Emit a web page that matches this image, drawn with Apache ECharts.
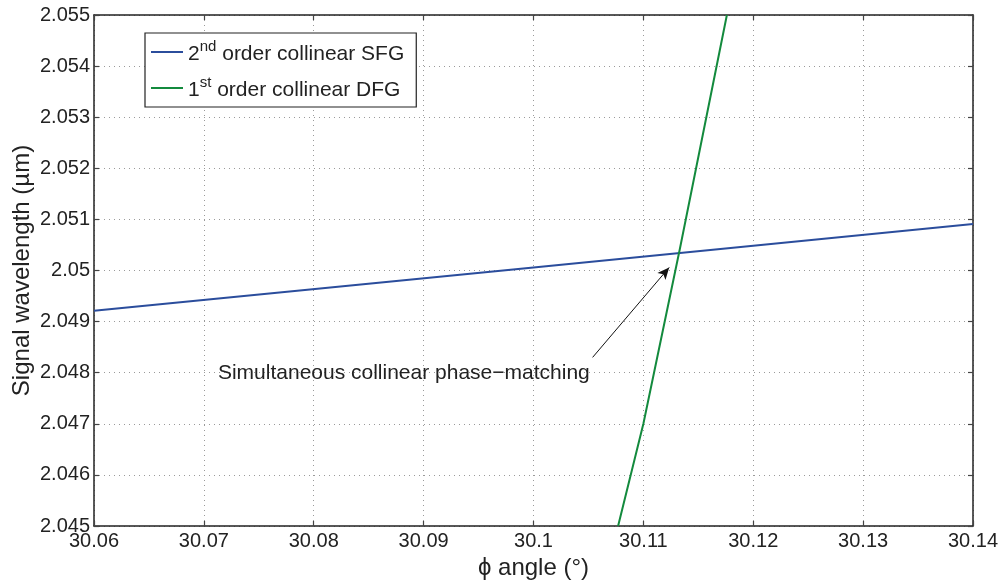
<!DOCTYPE html>
<html><head><meta charset="utf-8">
<script src="https://cdn.jsdelivr.net/npm/echarts@6/dist/echarts.min.js"></script>
<style>html,body{margin:0;padding:0;background:#fff}#c{width:1004px;height:583px}</style>
</head><body><div id="c"></div>
<script>
// Data
var sfgAngle = [30.06, 30.10, 30.14];
var sfgWavelength = [2.04921, 2.05006, 2.05091];
var dfgAngle = [30.1077, 30.1100, 30.1133, 30.1176];
var dfgWavelength = [2.0450, 2.0470, 2.0504, 2.0550];
var xTicks = [30.06, 30.07, 30.08, 30.09, 30.10, 30.11, 30.12, 30.13, 30.14];
var yTicks = [2.045, 2.046, 2.047, 2.048, 2.049, 2.050, 2.051, 2.052, 2.053, 2.054, 2.055];
var annotationText = 'Simultaneous collinear phase\u2212matching';
var annotationTextPos = [30.0882, 2.04799];
var arrowTail = [30.10538, 2.04830];
var arrowHead = [30.11235, 2.05006];

function zip(a, b) { return a.map(function (v, i) { return [v, b[i]]; }); }
var fmt = function (v) { return String(parseFloat(Number(v).toFixed(4))); };
var font = 'Liberation Sans, Arial, Helvetica, sans-serif';
var chart = echarts.init(document.getElementById('c'));
var gridLine = { show: true, lineStyle: { color: '#9a9a9a', type: [1, 4], width: 1 } };
var axisLine = { show: true, lineStyle: { color: '#222', width: 1.5 } };
var tick = { show: true, inside: true, length: 5, lineStyle: { color: '#444', width: 1.2 } };
chart.setOption({
  animation: false,
  backgroundColor: '#fff',
  grid: { left: 94, right: 31, top: 15, bottom: 57, containLabel: false, outerBoundsMode: 'none' },
  legend: {
    left: 145, top: 33, orient: 'vertical', itemGap: 10,
    padding: [6, 12, 6, 6],
    backgroundColor: '#fff', borderColor: '#222', borderWidth: 1.2,
    itemWidth: 32, itemHeight: 26, icon: 'path://M0,12 L32,12 L32,14 L0,14 Z',
    textStyle: { fontFamily: font, fontSize: 21, color: '#222',
      rich: { n: { fontFamily: font, fontSize: 21, color: '#222', verticalAlign: 'bottom', lineHeight: 26 },
              s: { fontFamily: font, fontSize: 15, color: '#222', verticalAlign: 'top', lineHeight: 14 } } },
    formatter: function (name) {
      if (name.indexOf('SFG') >= 0) return '{n|2}{s|nd}{n| order collinear SFG}';
      return '{n|1}{s|st}{n| order collinear DFG}';
    },
    data: ['SFG', 'DFG']
  },
  xAxis: [{
    type: 'value', min: 30.06, max: 30.14, interval: 0.01,
    name: '\u03D5 angle (\u00B0)', nameLocation: 'middle', nameGap: 30,
    nameTextStyle: { fontFamily: font, fontSize: 24, color: '#222' },
    axisLine: axisLine, axisTick: tick, splitLine: gridLine,
    axisLabel: { fontFamily: font, fontSize: 20, color: '#222', margin: 5, formatter: fmt }
  }, {
    type: 'value', position: 'top', min: 30.06, max: 30.14, interval: 0.01,
    axisLine: axisLine, axisTick: tick, splitLine: { show: false }, axisLabel: { show: false }
  }],
  yAxis: [{
    type: 'value', min: 2.045, max: 2.055, interval: 0.001,
    name: 'Signal wavelength (\u00B5m)', nameLocation: 'middle', nameGap: 60, nameRotate: 90,
    nameMoveOverlap: false,
    nameTextStyle: { fontFamily: font, fontSize: 24, color: '#222' },
    axisLine: axisLine, axisTick: tick, splitLine: gridLine,
    axisLabel: { fontFamily: font, fontSize: 20, color: '#222', margin: 4, formatter: fmt }
  }, {
    type: 'value', position: 'right', min: 2.045, max: 2.055, interval: 0.001,
    axisLine: axisLine, axisTick: tick, splitLine: { show: false }, axisLabel: { show: false }
  }],
  series: [{
    name: 'SFG', type: 'line', data: zip(sfgAngle, sfgWavelength),
    showSymbol: false, symbol: 'none', color: '#2b4d9c',
    lineStyle: { width: 2, color: '#2b4d9c' }, z: 3,
    markPoint: {
      symbol: 'circle', symbolSize: 0,
      label: { show: true, position: 'inside', fontFamily: font, fontSize: 21, color: '#222', formatter: annotationText },
      data: [{ coord: annotationTextPos, value: 0 }]
    }
  }, {
    name: 'DFG', type: 'line', data: zip(dfgAngle, dfgWavelength),
    showSymbol: false, symbol: 'none', color: '#138a3d',
    lineStyle: { width: 2, color: '#138a3d' }, z: 3, clip: true,
    markLine: {
      silent: true, symbol: ['none', 'arrow'], symbolSize: [8, 12],
      lineStyle: { color: '#111', width: 1, type: 'solid' },
      label: { show: false },
      data: [[{ coord: arrowTail }, { coord: arrowHead }]]
    }
  }]
});
</script></body></html>
